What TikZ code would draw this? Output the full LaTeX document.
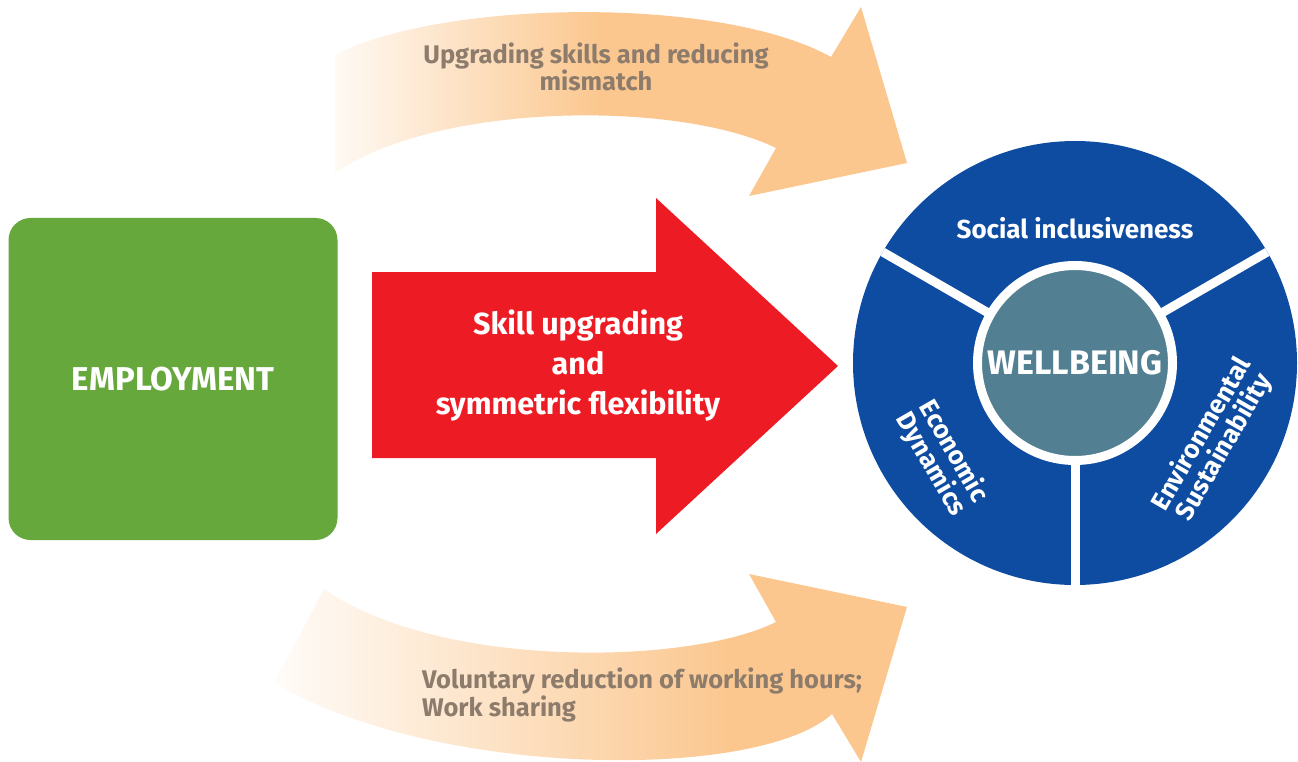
\documentclass[tikz,border=0pt]{standalone}
\usepackage{fontspec}
\setmainfont{Fira Sans}
\usepackage{tikz}
\definecolor{empgreen}{RGB}{103,168,60}
\definecolor{skillred}{RGB}{237,28,36}
\definecolor{ringblue}{RGB}{14,76,161}
\definecolor{coreteal}{RGB}{82,127,146}
\definecolor{bandorange}{RGB}{251,199,143}
\definecolor{bandgrey}{RGB}{141,124,108}
\tikzstyle{whitetext}=[text=white, align=center, inner sep=0pt]
\tikzstyle{bandlabel}=[text=bandgrey, inner sep=0pt,
                       font=\bfseries\fontsize{25.5}{25}\selectfont]

\begin{document}
\begin{tikzpicture}[x=1pt,y=-1pt]
  \useasboundingbox (0,0) rectangle (1298,762);
  \begin{scope}
    \clip (335,55) .. controls (440,0) and (720,-5) .. (831,57) -- (861,7) -- (907,163)
      -- (749,196) -- (776,148) .. controls (680,101) and (440,101) .. (335,173) -- cycle;
    \shade[left color=bandorange!8, right color=bandorange] (330,0) rectangle (600,200);
    \fill[bandorange] (599,0) rectangle (910,200);
  \end{scope}
  \begin{scope}
    \clip (324,589) .. controls (440,670) and (690,665) .. (776,622) -- (749,574) -- (907,607)
      -- (861,762) -- (832,714) .. controls (760,780) and (440,780) .. (274,683) -- cycle;
    \shade[left color=bandorange!5, right color=bandorange] (270,560) rectangle (730,765);
    \fill[bandorange] (729,560) rectangle (910,765);
  \end{scope}
  \node[bandlabel, align=center] (upgrade) at (596,67) {Upgrading skills and reducing\\mismatch};
  \node[bandlabel, align=left, anchor=west] (hours) at (422,695)
    {Voluntary reduction of working hours;\\Work sharing};

  \node[fill=empgreen, rounded corners=22pt, minimum width=329pt, minimum height=322pt,
        whitetext, font=\bfseries\fontsize{33}{36}\selectfont] (employment) at (173,379) {EMPLOYMENT};

  \fill[skillred] (372,272) -- (656,272) -- (656,198) -- (838,366) -- (656,534) -- (656,458)
    -- (372,458) -- cycle;
  \node[whitetext, font=\bfseries\fontsize{30.5}{40}\selectfont] (skills) at (578,366)
    {Skill upgrading\\and\\symmetric flexibility};

  \coordinate (hub) at (1075,363);
  \fill[ringblue] (hub) circle (222pt);
  \foreach \a in {30,150,270}
    \draw[white, line width=9pt] (hub) -- ++(\a:222pt);
  \node[circle, fill=coreteal, draw=white, line width=9pt, minimum size=195pt, inner sep=0pt,
        text=white, font=\bfseries\fontsize{34}{36}\selectfont] (wellbeing) at (hub) {WELLBEING};
  \node[whitetext, font=\bfseries\fontsize{26}{28}\selectfont] (social) at (1075,228)
    {Social inclusiveness};
  \node[whitetext, rotate=-60, font=\bfseries\fontsize{26}{26}\selectfont] (economic) at (942,458)
    {Economic\\Dynamics};
  \node[whitetext, rotate=60, font=\bfseries\fontsize{26}{26}\selectfont] (environ) at (1213,441)
    {Environmental\\Sustainability};
\end{tikzpicture}
\end{document}
